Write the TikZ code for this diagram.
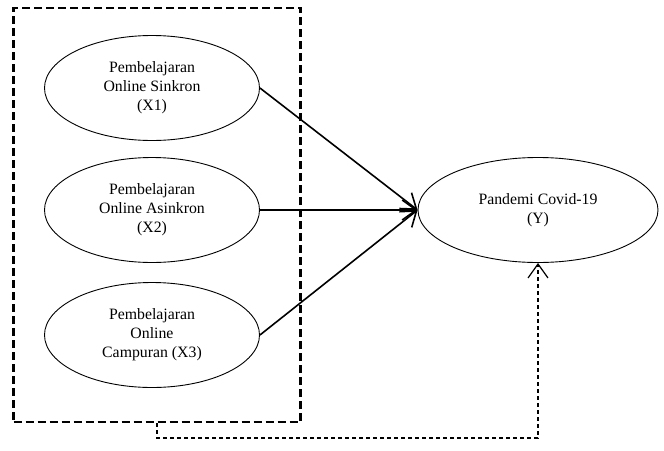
\documentclass[tikz,border=0pt]{standalone}
\usepackage{fontspec}
\setmainfont{Liberation Serif}
\usetikzlibrary{arrows.meta,shapes.geometric}
\begin{document}
\begin{tikzpicture}[x=0.5pt,y=-0.5pt,
  varx/.style={ellipse,draw,line width=0.45pt,minimum width=107.5pt,minimum height=52.5pt,inner sep=0pt,align=center,font=\fontsize{7.9}{9.5}\selectfont},
  vary/.style={varx,minimum width=120pt},
  link/.style={line width=0.8pt,-{Straight Barb[length=7pt,width=10pt,line width=0.8pt]}},
  grp/.style={draw,line width=1.1pt,dash pattern=on 4pt off 2pt,minimum width=143.5pt,minimum height=207pt,inner sep=0pt},
  dlink/.style={line width=0.6pt,dash pattern=on 2pt off 1.5pt,-{Straight Barb[length=7pt,width=10pt,line width=0.6pt]}}]
\useasboundingbox (0,0) rectangle (664,450);
\node[grp] (box) at (157,215) {};
\node[varx] (x1) at (152,88) {Pembelajaran\\Online Sinkron\\(X1)};
\node[varx] (x2) at (152,210) {Pembelajaran\\Online Asinkron\\(X2)};
\node[varx] (x3) at (152,335) {Pembelajaran\\Online\\Campuran (X3)};
\node[vary] (y) at (538,210) {Pandemi Covid-19\\(Y)};
\draw[link] (x1.east) -- (y.west);
\draw[link] (x2.east) -- (y.west);
\draw[link] (x3.east) -- (y.west);
\coordinate (c) at (157,438);
\draw[dlink] (box.south) -- (c) -| (y.south);
\end{tikzpicture}
\end{document}
